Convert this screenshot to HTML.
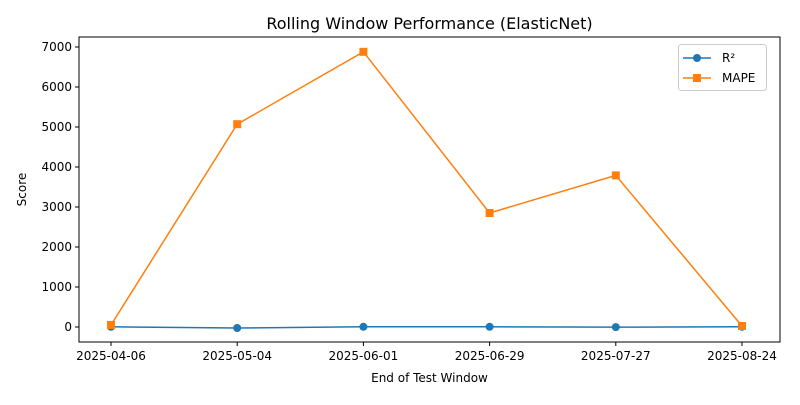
<!DOCTYPE html>
<html><head><meta charset="utf-8"><style>
body{margin:0;background:#fff;}
svg{font-family:"DejaVu Sans","Liberation Sans",sans-serif;}
</style></head><body>
<svg id="c" width="800" height="400"></svg>
<script>
const categories=["2025-04-06","2025-05-04","2025-06-01","2025-06-29","2025-07-27","2025-08-24"];
const r2Values=[5,-25,5,5,-3,5];
const mapeValues=[50,5070,6880,2850,3790,25];
const yTicks=[0,1000,2000,3000,4000,5000,6000,7000];
const svg=document.getElementById('c');
const NS='http://www.w3.org/2000/svg';
const L=79,R=780,T=37,B=342;
const x=i=>111+i*(742-111)/(categories.length-1);
const y=v=>327-v*(280/7000);
function mk(tag,attrs,parent){const e=document.createElementNS(NS,tag);for(const k in attrs)e.setAttribute(k,attrs[k]);(parent||svg).appendChild(e);return e;}
const title=mk('text',{x:(L+R)/2,y:29,'text-anchor':'middle','font-size':16});title.textContent='Rolling Window Performance (ElasticNet)';


yTicks.forEach(v=>{
  const g=mk('g',{});
  
  
  mk('line',{x1:L-4,x2:L,y1:y(v),y2:y(v),stroke:'#000'},g);
  const t=mk('text',{x:L-7,y:y(v)+4,'text-anchor':'end','font-size':12},g);t.textContent=v;
});
categories.forEach((c,i)=>{
  const g=mk('g',{});
  
  
  mk('line',{x1:x(i),x2:x(i),y1:B,y2:B+4,stroke:'#000'},g);
  const t=mk('text',{x:x(i),y:B+18,'text-anchor':'middle','font-size':12},g);t.textContent=c;
});
const xt=mk('text',{x:(L+R)/2,y:382,'text-anchor':'middle','font-size':12});xt.textContent='End of Test Window';


const yt=mk('text',{x:26,y:(T+B)/2,'text-anchor':'middle','font-size':12,transform:`rotate(-90 26 ${(T+B)/2})`});yt.textContent='Score';


function series(vals,color,marker,name){
  const g=mk('g',{});
  
  
  mk('polyline',{points:vals.map((v,i)=>x(i)+','+y(v)).join(' '),fill:'none',stroke:color,'stroke-width':1.5},g);
  vals.forEach((v,i)=>{
    let m;
    if(marker==='o')m=mk('circle',{cx:x(i),cy:y(v),r:4,fill:color},g);
    else m=mk('rect',{x:x(i)-4,y:y(v)-4,width:8,height:8,fill:color},g);
    
    
  });
}
series(r2Values,'#1f77b4','o','r2-series');
series(mapeValues,'#ff7f0e','s','mape-series');
const frame=mk('rect',{x:L,y:T,width:R-L,height:B-T,fill:'none',stroke:'#000','stroke-width':1});


const lg=mk('g',{});


mk('rect',{x:678.5,y:44.5,width:88,height:46,rx:3,fill:'#fff',stroke:'#ccc'},lg);
[['R²','#1f77b4','o'],['MAPE','#ff7f0e','s']].forEach((e,i)=>{
  const g=mk('g',{},lg);
  
  
  const yy=58+i*20;
  mk('line',{x1:683,x2:711,y1:yy,y2:yy,stroke:e[1],'stroke-width':1.5},g);
  if(e[2]==='o')mk('circle',{cx:697,cy:yy,r:4,fill:e[1]},g);else mk('rect',{x:693,y:yy-4,width:8,height:8,fill:e[1]},g);
  const t=mk('text',{x:722,y:yy+4,'font-size':12},g);t.textContent=e[0];
});
</script>
</body></html>
